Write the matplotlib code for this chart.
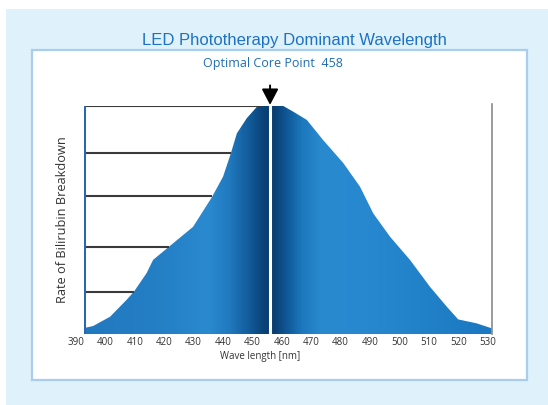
"""LED phototherapy dominant wavelength chart."""
import matplotlib.pyplot as plt
import numpy as np
from matplotlib.colors import LinearSegmentedColormap
from matplotlib.patches import Rectangle, Polygon
from matplotlib.transforms import blended_transform_factory

# curve (wavelength nm, relative rate %)
wavelength = [392.7, 395.8, 401.6, 407.2, 409.7, 414.0, 416.2, 422.0, 429.8,
              436.2, 440.0, 442.6, 444.7, 448.1, 451.5, 453.3, 460.5, 463.9,
              468.5, 474.1, 480.9, 486.6, 491.1, 496.8, 503.6, 510.4, 516.1,
              520.0, 526.2, 531.4]
rate = [2.6, 3.5, 7.6, 15.0, 18.6, 26.7, 32.5, 38.7, 47.0,
        60.0, 69.0, 79.0, 88.0, 94.7, 99.6, 100.0, 100.0, 97.5,
        93.9, 85.0, 75.0, 64.6, 52.9, 42.7, 32.5, 20.7, 12.0,
        6.4, 4.7, 2.5]
grid_levels = [18.4, 38.2, 60.5, 79.4, 100.0]
core_point = 456
tick_values = list(range(390, 531, 10))

BLUE_BG = '#dff1fa'

fig = plt.figure(figsize=(5.48, 4.05), dpi=100, facecolor='white')

# light blue panel and white card
fig.patches.append(Rectangle((6 / 548, 0), 1, (405 - 9) / 405, transform=fig.transFigure,
                             facecolor=BLUE_BG, edgecolor='none', zorder=-3))
fig.patches.append(Rectangle((32 / 548, 25 / 405), 495 / 548, 330 / 405,
                             transform=fig.transFigure, facecolor='white',
                             edgecolor='#a8cdee', lw=1.6, zorder=-2))

ax = fig.add_axes([84 / 548, 71 / 405, 408 / 548, 228 / 405])
ax.set_facecolor('none')
ax.set_xlim(wavelength[0], wavelength[-1] + 0.1)
ax.set_ylim(0, 100)
for s in ax.spines.values():
    s.set_visible(False)
ax.set_xticks([])
ax.set_yticks([])

# gradient fill clipped to the curve
stops = [(392, '#2278bf'), (420, '#2580c6'), (435, '#2a8ad0'), (442, '#2179be'),
         (448, '#145f9f'), (453, '#0b467c'), (456, '#093c70'), (458, '#0b4176'),
         (462, '#0f5a98'), (467, '#1d78bd'), (474, '#2a8ad0'), (490, '#2888cf'),
         (510, '#2080c8'), (532, '#1c78c0')]
lo, hi = stops[0][0], stops[-1][0]
cmap = LinearSegmentedColormap.from_list(
    'led', [((w - lo) / (hi - lo), c) for w, c in stops])
grad = np.linspace(lo, hi, 600).reshape(1, -1)
img = ax.imshow(grad, extent=[lo, hi, 0, 100], aspect='auto', cmap=cmap,
                vmin=lo, vmax=hi, zorder=1)
verts = list(zip(wavelength, rate)) + [(wavelength[-1], 0), (wavelength[0], 0)]
poly = Polygon(verts, closed=True, facecolor='none', edgecolor='none')
ax.add_patch(poly)
img.set_clip_path(poly)

# horizontal guide lines up to the rising edge
peak_i = int(np.argmax(rate))
for lvl in grid_levels:
    x_end = np.interp(lvl, rate[:peak_i + 1], wavelength[:peak_i + 1])
    ax.plot([wavelength[0], x_end], [lvl, lvl], color='#3a3a3a', lw=1.5,
            zorder=2, solid_capstyle='butt')

# axes lines
ax.plot([wavelength[0], wavelength[0]], [0, 100], color='#2a66b8', lw=2.2, zorder=3)
ax.plot([wavelength[-1], wavelength[-1]], [0, 101], color='#8a8a8a', lw=1.2,
        zorder=3, clip_on=False)

# core point marker
ax.plot([core_point, core_point], [0, 100], color='white', lw=2.2, zorder=4)
ax.annotate('', xy=(core_point, 100.5), xytext=(0, 14), textcoords='offset points',
            annotation_clip=False,
            arrowprops=dict(arrowstyle='-|>,head_length=0.8,head_width=0.42',
                            color='black', lw=1.4, mutation_scale=12,
                            shrinkA=0, shrinkB=0), zorder=5)

# tick labels
trans = blended_transform_factory(ax.transData, ax.transAxes)
for t in tick_values:
    ax.text(t, -0.015, str(t), transform=trans, ha='center', va='top',
            fontsize=7, family='Open Sans', color='#333333', clip_on=False)

fig.text(260 / 548, (405 - 357) / 405, 'Wave length [nm]', ha='center', va='center',
         fontsize=7, family='Open Sans', color='#333333')
fig.text(62 / 548, (405 - 220) / 405, 'Rate of Bilirubin Breakdown', rotation=90,
         ha='center', va='center', fontsize=9.2, family='Open Sans', color='#333333')

fig.text(294 / 548, (405 - 40) / 405, 'LED Phototherapy Dominant Wavelength',
         ha='center', va='center', fontsize=12, family='Liberation Sans', color='#1d72c4')
fig.text(273 / 548, (405 - 64) / 405, 'Optimal Core Point  458',
         ha='center', va='center', fontsize=9, family='Open Sans', color='#1f6db3')

fig.savefig('out.png', dpi=100)
